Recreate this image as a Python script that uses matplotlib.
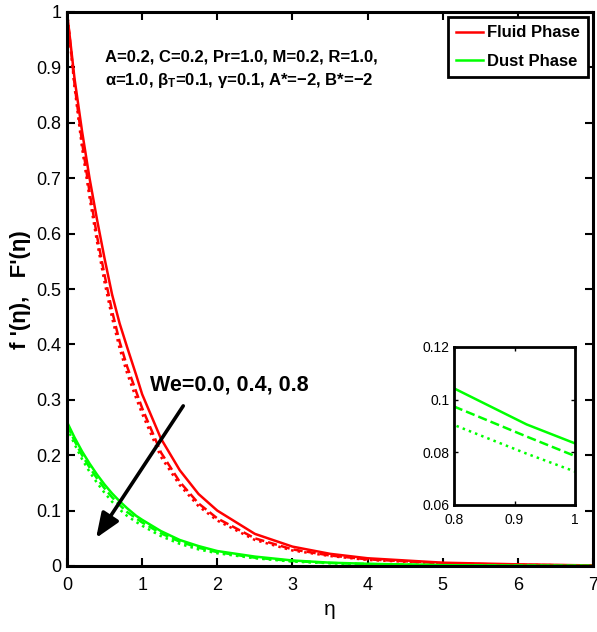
import matplotlib
matplotlib.use("Agg")
import matplotlib.pyplot as plt
from matplotlib import font_manager

names = {f.name for f in font_manager.fontManager.ttflist}
FONT = "Liberation Sans Narrow" if "Liberation Sans Narrow" in names else "Liberation Sans"
plt.rcParams['font.family'] = [FONT, 'DejaVu Sans']
plt.rcParams['mathtext.fontset'] = 'custom'
plt.rcParams['mathtext.rm'] = FONT
plt.rcParams['mathtext.it'] = FONT
plt.rcParams['mathtext.bf'] = FONT + ':bold'

eta = [0, 0.1, 0.2, 0.3, 0.4, 0.5, 0.6, 0.7, 0.8, 0.92, 1.0, 1.25, 1.5, 1.75, 2.0, 2.5, 3.0, 3.5, 4.0, 5.0, 6.0, 7.0]

fluid_we00 = [1.0, 0.88, 0.785, 0.70, 0.625, 0.555, 0.49, 0.438, 0.395, 0.345, 0.31, 0.23, 0.173, 0.13, 0.10, 0.058, 0.035, 0.022, 0.014, 0.006, 0.003, 0.001]
fluid_we04 = [1.0, 0.87, 0.765, 0.675, 0.595, 0.525, 0.46, 0.405, 0.36, 0.315, 0.285, 0.205, 0.152, 0.113, 0.086, 0.05, 0.030, 0.019, 0.012, 0.005, 0.002, 0.001]
fluid_we08 = [1.0, 0.865, 0.755, 0.665, 0.585, 0.512, 0.448, 0.393, 0.348, 0.303, 0.275, 0.197, 0.146, 0.108, 0.082, 0.047, 0.028, 0.018, 0.011, 0.0045, 0.002, 0.001]

dust_we00 = [0.26, 0.232, 0.207, 0.185, 0.165, 0.147, 0.131, 0.117, 0.1043, 0.0906, 0.0834, 0.063, 0.047, 0.036, 0.027, 0.017, 0.010, 0.006, 0.004, 0.0015, 0.0006, 0.0002]
dust_we04 = [0.255, 0.226, 0.200, 0.178, 0.158, 0.140, 0.124, 0.110, 0.0974, 0.086, 0.0786, 0.059, 0.044, 0.033, 0.025, 0.015, 0.009, 0.0055, 0.0035, 0.0013, 0.0005, 0.0002]
dust_we08 = [0.25, 0.220, 0.193, 0.170, 0.150, 0.132, 0.116, 0.102, 0.0904, 0.0795, 0.0727, 0.054, 0.040, 0.030, 0.023, 0.014, 0.008, 0.005, 0.003, 0.0012, 0.0005, 0.0002]

fluid_series = [fluid_we00, fluid_we04, fluid_we08]
dust_series = [dust_we00, dust_we04, dust_we08]
styles = ['-', '--', ':']
RED = (1, 0, 0)
GREEN = (0, 1, 0)

main_xticks = [0, 1, 2, 3, 4, 5, 6, 7]
main_yticks = [0, 0.1, 0.2, 0.3, 0.4, 0.5, 0.6, 0.7, 0.8, 0.9, 1]
inset_xticks = [0.8, 0.9, 1.0]
inset_xticklabels = ['0.8', '0.9', '1']
inset_yticks = [0.06, 0.08, 0.10, 0.12]
inset_yticklabels = ['0.06', '0.08', '0.1', '0.12']

fig = plt.figure(figsize=(5.97, 6.32), dpi=100)
ax = fig.add_axes([67/597, 1-566/632, 526/597, 554/632])

for s, ls in zip(fluid_series, styles):
    ax.plot(eta, s, color=RED, ls=ls, lw=1.8, label='Fluid Phase' if ls == '-' else None)
for s, ls in zip(dust_series, styles):
    ax.plot(eta, s, color=GREEN, ls=ls, lw=1.8, label='Dust Phase' if ls == '-' else None)

ax.set_xlim(0, 7)
ax.set_ylim(0, 1)
ax.set_xticks(main_xticks)
ax.set_xticklabels([str(t) for t in main_xticks])
ax.set_yticks(main_yticks)
ax.set_yticklabels(['0'] + ['%.1f' % t for t in main_yticks[1:-1]] + ['1'])
ax.tick_params(direction='in', top=True, right=True, length=6, width=1.5, labelsize=13)
ax.tick_params(axis='x', pad=8)
ax.tick_params(axis='y', pad=4)
for sp in ax.spines.values():
    sp.set_linewidth(2.2)

ax.set_xlabel('η', fontsize=15, labelpad=4)
fig.text(21/597, 1-290/632, "f '(η),   F'(η)", rotation=90, fontsize=16, fontweight='bold',
         ha='center', va='center')

ax.text(105/597, 1-57/632, 'A=0.2, C=0.2, Pr=1.0, M=0.2, R=1.0,', transform=fig.transFigure,
        fontsize=12, fontweight='bold', ha='left', va='center')
ax.text(105/597, 1-81/632, r'α=1.0, β$_{\mathbf{T}}$=0.1, γ=0.1, A*=−2, B*=−2', transform=fig.transFigure,
        fontsize=12, fontweight='bold', ha='left', va='center')

leg = ax.legend(loc='upper right', prop={'weight': 'bold', 'size': 12},
                frameon=True, fancybox=False, borderaxespad=0.3, handlelength=1.6,
                handletextpad=0.25, borderpad=0.5, labelspacing=0.8)
leg.get_frame().set_edgecolor('black')
leg.get_frame().set_linewidth(2.0)
leg.get_frame().set_alpha(1)

ax.annotate('', xy=(0.387, 0.0505), xytext=(1.547, 0.289),
            arrowprops=dict(arrowstyle='-|>,head_length=1.5,head_width=0.6', color='black', lw=2.6,
                            shrinkA=0, shrinkB=0))
ax.text(1.107, 0.327, 'We=0.0, 0.4, 0.8', fontsize=15.5, fontweight='bold', ha='left', va='center')

ins = fig.add_axes([454/597, 1-505/632, 121/597, 158/632])
for s, ls in zip(dust_series, styles):
    ins.plot(eta, s, color=GREEN, ls=ls, lw=1.8)
ins.set_xlim(0.8, 1.0)
ins.set_ylim(0.06, 0.12)
ins.set_xticks(inset_xticks)
ins.set_xticklabels(inset_xticklabels)
ins.set_yticks(inset_yticks)
ins.set_yticklabels(inset_yticklabels)
ins.tick_params(direction='in', top=True, right=True, length=3, width=1.0, labelsize=10)
ins.tick_params(axis='x', pad=6)
ins.tick_params(axis='y', pad=3)
for sp in ins.spines.values():
    sp.set_linewidth(2.0)

fig.savefig('out.png', dpi=100)
